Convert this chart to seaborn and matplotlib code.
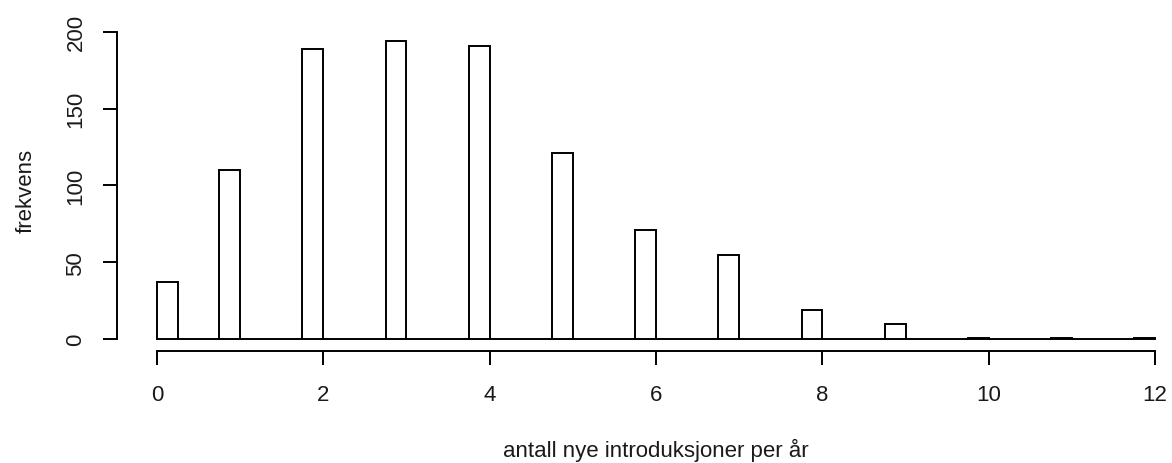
import numpy as np
import pandas as pd
import matplotlib
matplotlib.use("Agg")
import matplotlib.pyplot as plt
import seaborn as sns

# Data (1000 simulated years)
values = [0, 1, 2, 3, 4, 5, 6, 7, 8, 9, 10, 11, 12]
counts = [37, 110, 189, 194, 191, 121, 71, 55, 19, 10, 1, 1, 1]
bin_width = 0.25
bin_range = (0, 12)
xticks = [0, 2, 4, 6, 8, 10, 12]
yticks = [0, 50, 100, 150, 200]
xlabel = "antall nye introduksjoner per år"
ylabel = "frekvens"

sns.set_theme(style="white")
plt.rcParams["font.family"] = ["Liberation Sans", "DejaVu Sans"]

df = pd.DataFrame({"v": values, "n": counts})
# R's hist() uses right-closed bins: value k falls in (k-0.25, k], 0 in [0, 0.25]
df["pos"] = np.where(df["v"] == 0, 0.0, df["v"] - bin_width) + bin_width / 2

W, H = 1172, 464
fig = plt.figure(figsize=(W / 100, H / 100), dpi=100)
ax = fig.add_axes([117 / W, (H - 352) / H, 1078 / W, 322 / H])

sns.histplot(data=df, x="pos", weights="n", binwidth=bin_width,
             binrange=bin_range, ax=ax,
             color="white", edgecolor="black", linewidth=1.4, alpha=1)

ax.set_xlim(-0.48, 12.48)
ax.set_ylim(-7.76, 201.76)
ax.set_xticks(xticks)
ax.set_yticks(yticks)
ax.set_xticklabels([str(t) for t in xticks])
ax.set_yticklabels([str(t) for t in yticks])

for s in ["top", "right"]:
    ax.spines[s].set_visible(False)
for s in ["left", "bottom"]:
    ax.spines[s].set_color("black")
    ax.spines[s].set_linewidth(1.4)
ax.spines["bottom"].set_bounds(0, 12)
ax.spines["left"].set_bounds(0, 200)

ax.tick_params(axis="both", which="major", direction="out", length=10,
               width=1.4, color="black", labelsize=16, labelcolor="#1a1a1a",
               bottom=True, left=True)
ax.tick_params(axis="x", pad=14)
ax.tick_params(axis="y", pad=12, labelrotation=90)
for lab in ax.get_yticklabels():
    lab.set_va("center")

ax.set_xlabel(xlabel, fontsize=16, color="#1a1a1a")
ax.set_ylabel(ylabel, fontsize=16, color="#1a1a1a")
ax.xaxis.set_label_coords(0.5, -0.27)
ax.yaxis.set_label_coords(-0.0746, 0.5)
ax.grid(False)
ax.set_facecolor("white")

fig.savefig("out.png", dpi=100, facecolor="white")
